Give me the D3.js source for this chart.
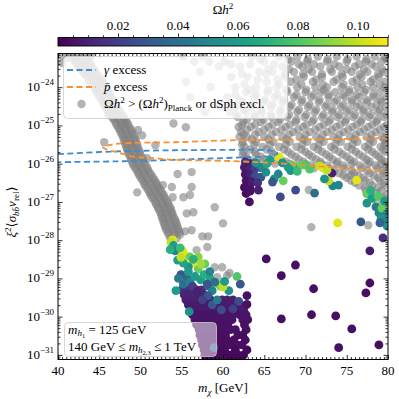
<!DOCTYPE html>
<html>
<head>
<meta charset="utf-8">
<script src="https://cdn.jsdelivr.net/npm/d3@7"></script>
<style>
  body { margin: 0; background: #fff; }
  text { font-family: "Liberation Serif", "DejaVu Serif", serif; fill: #000; }
</style>
</head>
<body>
<svg id="chart" width="399" height="399"></svg>
<script>
// values: masses in GeV, cross sections as log10
const massTicks = [40, 45, 50, 55, 60, 65, 70, 75, 80];
const sigmaDecades = [-31, -30, -29, -28, -27, -26, -25, -24];
const omegaTicks = [0.02, 0.04, 0.06, 0.08, 0.10];

// gray band (excluded points), rows of [log10 sigma, masses]
const grayBandRows = [
  [-23.18, [40.6, 41.5, 42.3, 43.1, 44.0]],
  [-23.30, [41.9, 42.7, 43.5]],
  [-23.43, [42.4, 43.2, 44.0]],
  [-23.56, [42.9, 43.6, 44.4]],
  [-23.69, [43.4, 44.1, 44.8]],
  [-23.82, [43.8, 44.6, 45.3]],
  [-23.95, [44.3, 45.0, 45.7]],
  [-24.08, [44.6, 45.3, 46.0]],
  [-24.21, [44.9, 45.6, 46.3]],
  [-24.34, [45.3, 46.0, 46.7]],
  [-24.47, [45.6, 46.3, 47.0]],
  [-24.60, [46.0, 46.7, 47.4]],
  [-24.73, [46.4, 47.1, 47.8]],
  [-24.86, [46.8, 47.5, 48.2]],
  [-24.99, [47.1, 47.8, 48.5]],
  [-25.12, [47.5, 48.2, 48.9]],
  [-25.25, [47.8, 48.5, 49.2]],
  [-25.38, [48.0, 48.7, 49.4]],
  [-25.51, [48.2, 48.9, 49.6]],
  [-25.64, [48.4, 49.1, 49.8]],
  [-25.77, [48.6, 49.3, 50.0]],
  [-25.90, [48.9, 49.6, 50.3]],
  [-26.03, [49.1, 49.9, 50.6]],
  [-26.16, [49.5, 50.2, 50.9]],
  [-26.29, [49.8, 50.5, 51.3]],
  [-26.42, [50.2, 50.9, 51.7]],
  [-26.55, [50.5, 51.3, 52.0]],
  [-26.68, [50.9, 51.7, 52.4]],
  [-26.81, [51.2, 52.0, 52.8]],
  [-26.94, [51.6, 52.4, 53.1]],
  [-27.07, [51.9, 52.7, 53.4]],
  [-27.20, [52.2, 53.0, 53.7]],
  [-27.33, [52.5, 53.2, 53.9]],
  [-27.46, [52.7, 53.4, 54.2]],
  [-27.59, [52.9, 53.7, 54.4]],
  [-27.72, [53.1, 53.9, 54.6]],
  [-27.85, [53.4, 54.2, 54.8]],
  [-27.95, [53.6, 54.4]]
];
const grayBandRowsB = [
  [-23.24, [41.2, 42.0, 42.9, 43.7]],
  [-23.37, [42.2, 43.0, 43.9]],
  [-23.50, [42.6, 43.4, 44.2]],
  [-23.63, [43.1, 43.9, 44.6]],
  [-23.76, [43.6, 44.4, 45.1]],
  [-23.89, [44.0, 44.8, 45.5]],
  [-24.02, [44.5, 45.2, 45.9]],
  [-24.15, [44.7, 45.5, 46.2]],
  [-24.28, [45.1, 45.8, 46.5]],
  [-24.41, [45.5, 46.2, 46.9]],
  [-24.54, [45.8, 46.5, 47.2]],
  [-24.67, [46.2, 46.9, 47.6]],
  [-24.80, [46.6, 47.3, 48.0]],
  [-24.93, [47.0, 47.7, 48.4]],
  [-25.06, [47.3, 48.0, 48.7]],
  [-25.19, [47.6, 48.3, 49.0]],
  [-25.32, [47.9, 48.6, 49.3]],
  [-25.45, [48.1, 48.8, 49.5]],
  [-25.58, [48.3, 49.0, 49.7]],
  [-25.71, [48.5, 49.2, 49.9]],
  [-25.84, [48.8, 49.5, 50.2]],
  [-25.97, [49.0, 49.7, 50.4]],
  [-26.10, [49.3, 50.0, 50.8]],
  [-26.23, [49.7, 50.4, 51.1]],
  [-26.36, [50.0, 50.7, 51.5]],
  [-26.49, [50.4, 51.1, 51.9]],
  [-26.62, [50.7, 51.5, 52.2]],
  [-26.75, [51.1, 51.9, 52.6]],
  [-26.88, [51.4, 52.2, 52.9]],
  [-27.01, [51.8, 52.6, 53.3]],
  [-27.14, [52.1, 52.9, 53.6]],
  [-27.27, [52.4, 53.1, 53.8]],
  [-27.40, [52.6, 53.3, 54.0]],
  [-27.53, [52.8, 53.5, 54.3]],
  [-27.66, [53.0, 53.8, 54.5]],
  [-27.79, [53.3, 54.0, 54.7]]
];

// gray cloud at large cross section, rows of [log10 sigma, masses]
const grayCloudRows = [
  [-23.20, [55.2, 57.5, 63.5, 66.8, 69.0, 71.5, 73.8, 76.2, 78.4, 79.6]],
  [-23.33, [56.5, 58.3, 60.2, 65.0, 68.3, 70.2, 72.6, 75.0, 77.3, 79.2]],
  [-23.46, [59.5, 62.1, 67.2, 69.6, 71.8, 74.1, 76.0, 78.5]],
  [-23.60, [57.2, 64.4, 66.0, 68.6, 70.8, 73.2, 75.6, 77.5, 79.5]],
  [-23.73, [61.0, 63.0, 67.5, 69.8, 72.0, 74.5, 76.8, 78.9]],
  [-23.86, [55.5, 65.3, 68.2, 70.9, 73.4, 75.7, 77.9, 79.7]],
  [-24.00, [58.5, 61.5, 64.0, 66.5, 69.0, 71.2, 72.6, 74.4, 76.3, 78.2, 79.6]],
  [-24.13, [62.8, 65.4, 67.8, 70.0, 71.9, 73.6, 75.3, 77.1, 79.0]],
  [-24.26, [56.0, 60.5, 63.8, 66.3, 68.6, 70.7, 72.8, 74.8, 76.5, 78.3, 79.8]],
  [-24.39, [62.4, 64.9, 67.2, 69.5, 71.6, 73.5, 75.6, 77.5, 79.2]],
  [-24.52, [59.6, 61.5, 63.5, 65.8, 68.1, 70.3, 72.4, 74.3, 76.2, 78.0, 79.7]],
  [-24.65, [57.8, 60.8, 62.8, 64.7, 66.9, 69.0, 71.1, 73.2, 75.0, 77.0, 78.8]],
  [-24.78, [61.8, 63.9, 65.9, 67.8, 69.9, 72.0, 73.9, 75.8, 77.7, 79.5]],
  [-24.91, [62.5, 64.6, 66.7, 68.8, 70.8, 72.8, 74.8, 76.7, 78.6]],
  [-25.04, [61.9, 63.4, 65.5, 67.6, 69.7, 71.7, 73.7, 75.7, 77.6, 79.5]],
  [-25.17, [62.2, 64.3, 66.4, 68.5, 70.5, 72.6, 74.6, 76.6, 78.5]],
  [-25.30, [62.0, 62.9, 65.0, 67.2, 69.3, 71.3, 73.4, 75.4, 77.4, 79.3]],
  [-25.43, [62.4, 64.0, 66.1, 68.1, 70.2, 72.2, 74.3, 76.3, 78.2, 79.8]],
  [-25.56, [62.6, 64.8, 66.8, 68.9, 71.0, 73.1, 75.1, 77.2, 79.1]],
  [-25.69, [62.5, 63.9, 65.9, 67.9, 70.0, 72.0, 74.1, 76.1, 78.1, 79.7]],
  [-25.82, [62.8, 64.6, 66.7, 68.8, 70.8, 72.9, 75.0, 77.0, 78.9]],
  [-25.95, [63.5, 65.5, 67.6, 69.7, 71.8, 73.9, 75.9, 77.8, 79.6]],
  [-26.05, [68.6, 70.7, 72.6, 74.6, 76.6, 78.5, 79.8]],
  [-26.18, [73.5, 75.6, 77.5, 79.3]],
  [-26.31, [74.6, 76.4, 78.3, 79.8]],
  [-26.44, [75.5, 77.2, 79.0]],
  [-26.57, [76.5, 78.1, 79.7]],
  [-26.70, [77.3, 79.2]],
  [-26.83, [78.0, 79.8]],
  [-26.96, [79.2]],
  [-27.10, [79.5]],
  [-27.30, [79.8]]
];
const grayCloudRowsB = [
  [-23.27, [64.5, 67.9, 70.3, 72.7, 75.1, 77.4, 79.8]],
  [-23.40, [61.0, 63.3, 66.2, 69.2, 71.0, 73.5, 76.5, 78.0]],
  [-23.53, [65.5, 68.0, 70.4, 73.0, 75.0, 77.1, 79.3]],
  [-23.66, [62.3, 65.2, 67.5, 69.7, 72.0, 74.4, 76.6, 78.8]],
  [-23.80, [64.2, 66.6, 68.9, 71.3, 73.8, 76.2, 78.2]],
  [-23.93, [62.6, 66.8, 69.5, 72.1, 74.6, 76.9, 79.0]],
  [-24.07, [63.2, 65.5, 67.7, 70.1, 72.2, 75.3, 77.3, 79.9]],
  [-24.20, [61.5, 64.0, 66.6, 68.9, 71.0, 72.8, 74.5, 76.2, 78.2]],
  [-24.33, [62.0, 65.1, 67.4, 69.6, 71.7, 73.8, 75.7, 77.4, 79.1]],
  [-24.46, [60.8, 63.6, 66.0, 68.3, 70.5, 72.6, 74.6, 76.6, 78.6]],
  [-24.59, [62.5, 64.6, 67.0, 69.2, 71.3, 73.3, 75.3, 77.1, 79.0]],
  [-24.72, [61.6, 63.8, 65.8, 68.0, 70.1, 72.2, 74.1, 76.0, 77.9, 79.8]],
  [-24.85, [62.9, 64.9, 66.9, 68.9, 71.0, 73.0, 74.9, 76.8, 78.7]],
  [-24.98, [62.3, 63.9, 66.0, 68.1, 70.1, 72.2, 74.2, 76.2, 78.1, 79.9]],
  [-25.11, [62.9, 65.0, 67.1, 69.1, 71.2, 73.2, 75.2, 77.1, 79.0]],
  [-25.24, [62.5, 63.9, 65.9, 68.0, 70.0, 72.1, 74.1, 76.1, 78.0, 79.8]],
  [-25.37, [63.5, 65.5, 67.7, 69.8, 71.8, 73.9, 75.9, 77.9, 79.5]],
  [-25.50, [62.3, 63.8, 65.7, 67.6, 69.6, 71.6, 73.6, 75.7, 77.7, 79.6]],
  [-25.63, [63.3, 65.3, 67.4, 69.5, 71.5, 73.5, 75.6, 77.6, 79.4]],
  [-25.76, [62.4, 64.0, 66.1, 68.3, 70.4, 72.5, 74.5, 76.5, 78.5]],
  [-25.89, [62.9, 64.9, 67.0, 69.2, 71.3, 73.3, 75.4, 77.4, 79.2]],
  [-26.00, [66.3, 68.1, 70.0, 71.9, 73.8, 75.6, 77.6, 79.2]],
  [-26.12, [71.0, 72.9, 74.7, 76.8, 78.7]],
  [-26.25, [74.1, 75.9, 77.8, 79.5]],
  [-26.37, [75.0, 77.0, 78.8]],
  [-26.50, [76.0, 77.8, 79.5]],
  [-26.63, [77.2, 78.8]],
  [-26.77, [78.6]],
  [-26.90, [79.5]],
  [-27.20, [79.3]]
];

// scattered gray points [mass, log10 sigma]
const grayScatter = [
  [40.5, -23.37], [45.6, -25.44], [46.1, -24.73], [48.1, -24.92], [49.7, -25.12],
  [50.2, -25.26], [51.8, -25.52], [50.8, -25.86], [49.6, -26.75], [52.7, -26.56],
  [53.8, -26.61], [54.5, -26.27], [56.2, -26.22], [56.2, -26.61], [53.9, -26.88],
  [55.2, -26.88], [56.0, -26.82], [55.6, -27.30], [56.4, -27.27], [59.0, -27.14],
  [60.0, -27.56], [56.2, -27.74], [55.4, -27.77], [57.5, -27.90], [58.2, -27.90],
  [58.1, -28.18], [56.8, -28.26], [59.0, -28.71], [59.9, -28.71], [60.5, -28.92],
  [60.8, -28.86], [59.3, -28.97], [55.0, -28.97], [70.7, -27.66], [77.6, -27.61],
  [70.4, -26.69], [75.5, -26.30], [54.0, -24.95], [55.5, -25.05]
];

// coloured points [mass, log10 sigma, omega h^2]
const colouredPoints = [
  [53.9, -27.99, 0.105], [53.7, -28.06, 0.10], [54.0, -28.14, 0.06], [54.2, -28.28, 0.05],
  [55.1, -28.28, 0.105], [55.4, -28.39, 0.105], [56.0, -28.44, 0.085], [56.2, -28.60, 0.105],
  [57.0, -28.44, 0.09], [57.8, -28.62, 0.085], [57.0, -28.75, 0.085], [55.8, -28.70, 0.055],
  [54.9, -28.90, 0.03], [55.6, -28.98, 0.035], [57.3, -29.04, 0.06], [59.7, -29.20, 0.085],
  [59.5, -29.15, 0.09], [58.2, -29.20, 0.035], [58.7, -29.32, 0.05], [60.7, -29.32, 0.055],
  [62.1, -29.15, 0.03], [61.7, -28.95, 0.08], [62.9, -29.45, 0.005], [62.9, -29.68, 0.005],
  [61.9, -29.60, 0.025], [61.2, -29.80, 0.02], [54.3, -29.32, 0.06], [55.9, -29.87, 0.055],
  [54.5, -28.52, 0.06], [54.8, -28.20, 0.075], [55.2, -28.60, 0.065], [56.4, -28.50, 0.07],
  [60.0, -29.22, 0.10], [54.6, -29.00, 0.045], [55.2, -29.15, 0.04], [56.0, -29.10, 0.05],
  [56.6, -28.95, 0.06], [57.7, -28.90, 0.07], [58.4, -29.00, 0.065], [59.0, -29.10, 0.04],
  [60.2, -29.08, 0.06], [56.3, -29.20, 0.02], [56.9, -29.33, 0.01], [58.1, -29.15, 0.03],
  [53.6, -28.25, 0.07], [54.9, -28.45, 0.10], [55.8, -28.82, 0.06], [57.3, -28.62, 0.095],
  [58.4, -28.82, 0.05],
  // bluish points inside the purple band
  [58.9, -30.81, 0.03], [58.7, -29.69, 0.03], [59.3, -29.56, 0.045], [58.2, -29.45, 0.03],
  [57.5, -29.56, 0.02], [59.8, -29.82, 0.025],
  // column just above the h resonance
  [62.7, -25.95, 0.015], [63.3, -26.00, 0.01], [63.9, -25.98, 0.02], [62.6, -26.10, 0.008],
  [63.2, -26.15, 0.012], [63.9, -26.12, 0.02], [64.5, -26.10, 0.03], [62.7, -26.28, 0.006],
  [63.3, -26.30, 0.01], [63.9, -26.32, 0.025], [64.6, -26.35, 0.03], [62.8, -26.45, 0.005],
  [63.5, -26.48, 0.008], [64.2, -26.50, 0.015], [62.6, -26.62, 0.004], [63.3, -26.65, 0.006],
  [64.3, -26.69, 0.01], [62.8, -26.78, 0.004], [63.3, -26.72, 0.005], [63.2, -27.00, 0.004],
  // edge of the gray cloud
  [64.0, -25.98, 0.055], [65.7, -25.91, 0.06], [66.8, -25.83, 0.105], [67.2, -25.98, 0.055],
  [68.5, -26.09, 0.06], [69.5, -26.04, 0.085], [70.5, -26.14, 0.08], [71.7, -26.06, 0.10],
  [72.1, -26.11, 0.105], [73.2, -26.25, 0.01], [65.2, -26.22, 0.055], [66.7, -26.27, 0.05],
  [66.2, -26.40, 0.055], [66.0, -26.48, 0.03], [67.3, -26.45, 0.085], [66.95, -26.87, 0.025],
  [68.8, -26.69, 0.025], [71.1, -26.77, 0.04], [73.3, -26.58, 0.05], [74.0, -26.56, 0.05],
  [72.8, -26.45, 0.10], [72.3, -26.40, 0.055], [76.2, -26.43, 0.105], [64.8, -26.10, 0.05],
  [65.3, -26.00, 0.065], [68.3, -26.04, 0.085], [68.2, -26.18, 0.055], [70.1, -26.04, 0.08],
  [69.0, -26.20, 0.075], [72.6, -26.17, 0.10], [67.9, -26.10, 0.06],
  // right-hand cluster
  [77.44, -26.79, 0.085], [78.29, -26.92, 0.09], [77.44, -27.03, 0.055], [78.05, -26.90, 0.06],
  [78.54, -27.13, 0.045], [78.90, -27.29, 0.05], [79.27, -27.16, 0.085], [79.15, -27.45, 0.055],
  [79.63, -27.52, 0.05], [79.88, -27.63, 0.055], [79.02, -27.55, 0.035], [79.39, -27.94, 0.015],
  [77.80, -28.28, 0.008], [76.71, -27.52, 0.03], [73.90, -27.55, 0.105], [78.8, -26.85, 0.08],
  [79.6, -26.98, 0.06], [79.9, -27.30, 0.05], [77.9, -26.70, 0.07],
  // sparse points at small cross section
  [65.24, -28.49, 0.004], [68.78, -28.65, 0.004], [67.07, -28.93, 0.004], [70.98, -29.27, 0.004],
  [77.80, -29.12, 0.004], [77.32, -29.38, 0.004], [67.07, -30.06, 0.004], [70.73, -29.95, 0.004],
  [73.66, -29.98, 0.004], [75.61, -30.32, 0.004], [74.02, -30.81, 0.004], [78.90, -30.74, 0.004]
];

// dense purple band, rows of [log10 sigma, omega h^2, masses]
const purpleRows = [
  [-29.30, 0.014, [55.0, 55.6, 56.2, 56.8, 57.4]],
  [-29.43, 0.012, [55.3, 55.9, 56.5, 57.1, 57.7]],
  [-29.56, 0.010, [55.5, 56.1, 56.7, 57.3, 57.9, 58.5, 59.9, 60.5, 61.2]],
  [-29.69, 0.008, [55.8, 56.4, 57.0, 57.6, 58.2, 59.5, 60.1, 60.7, 61.4, 62.1]],
  [-29.82, 0.008, [56.1, 56.7, 57.3, 57.9, 58.5, 59.1, 60.3, 61.6, 62.5]],
  [-29.95, 0.006, [56.3, 56.9, 57.5, 58.1, 58.7, 59.3, 59.9, 60.5, 61.2, 62.0, 62.8]],
  [-30.08, 0.006, [56.6, 57.2, 57.8, 58.4, 59.0, 59.6, 60.2, 61.1, 62.4, 63.0]],
  [-30.21, 0.005, [56.8, 57.4, 58.0, 58.6, 59.2, 59.8, 60.6, 62.6]],
  [-30.34, 0.005, [57.1, 57.7, 58.3, 58.9, 59.5, 60.1, 60.9, 61.5, 62.8]],
  [-30.48, 0.004, [57.2, 57.8, 58.4, 59.0, 59.6, 60.3, 61.8, 62.4]],
  [-30.61, 0.004, [57.4, 58.0, 58.6, 59.2, 59.8, 60.5, 61.3, 62.7]],
  [-30.74, 0.004, [57.5, 58.1, 58.7, 59.3, 59.9, 60.9, 61.7, 62.3]],
  [-30.87, 0.003, [57.7, 58.3, 58.9, 59.5, 60.2, 61.5, 62.9]],
  [-31.00, 0.003, [57.8, 58.4, 59.0, 59.6, 60.3, 60.9, 61.8, 62.5]],
  [-31.13, 0.003, [57.9, 58.5, 59.1, 59.7, 60.4, 61.2, 62.2]]
];

// excess contours [mass, log10 sigma]
const gammaContour = [
  [40, -25.75], [47, -25.68], [54, -25.65], [60, -25.64], [64.5, -25.64], [66.2, -25.68],
  [66.6, -25.74], [65.8, -25.80], [63, -25.83], [58, -25.87], [54, -25.90], [47, -25.94], [40, -25.96]
];
const pbarContour = [
  [80, -25.33], [72.97, -25.36], [60.85, -25.39], [54.18, -25.44], [48.73, -25.46], [46.55, -25.50],
  [45.45, -25.57], [45.8, -25.62], [47.27, -25.71], [49.33, -25.82], [51.76, -25.86], [54.18, -25.90],
  [60.85, -25.93], [66.55, -25.99], [72.97, -26.09], [80, -26.20]
];

const blue = "#3c8dd0", orange = "#f8912e";

const svg = d3.select("#chart");
const margin = { top: 53.5, right: 11, bottom: 39.5, left: 58 };
const W = 399, H = 399;
const x = d3.scaleLinear().domain([40, 80]).range([margin.left, W - margin.right]);
const y = d3.scaleLog().domain([Math.pow(10, -31.12), Math.pow(10, -23.12)]).range([H - margin.bottom, margin.top]);
const color = d3.scaleSequential(d3.interpolateViridis).domain([0, 0.11]);
const ys = L => y(Math.pow(10, L));

svg.append("defs").append("clipPath").attr("id", "clip")
  .append("rect").attr("x", x(40)).attr("y", margin.top)
  .attr("width", x(80) - x(40)).attr("height", H - margin.bottom - margin.top);

function rich(sel, parts) {
  let cur = 0;
  parts.forEach(p => {
    const sh = p.s || 0;
    const ts = sel.append("tspan").text(p.t);
    if (sh !== cur) ts.attr("dy", sh - cur);
    if (p.i) ts.style("font-style", "italic");
    if (p.f) ts.style("font-size", p.f + "px");
    cur = sh;
  });
}

const plot = svg.append("g").attr("clip-path", "url(#clip)");

// gray excluded points
let grayData = [];
[grayBandRows, grayBandRowsB, grayCloudRows, grayCloudRowsB].forEach(rows =>
  rows.forEach(r => r[1].forEach(m => grayData.push([m, r[0]]))));
grayScatter.forEach(p => grayData.push(p));
plot.append("g").selectAll("circle").data(grayData).join("circle")
  .attr("cx", d => x(d[0])).attr("cy", d => ys(d[1])).attr("r", 4.2)
  .attr("fill", "#808080").attr("fill-opacity", 0.6);

// viable points coloured by relic density
let colData = [];
purpleRows.forEach(r => r[2].forEach(m => colData.push([m, r[0], r[1]])));
colouredPoints.forEach(p => colData.push(p));
plot.append("g").selectAll("circle").data(colData).join("circle")
  .attr("cx", d => x(d[0])).attr("cy", d => ys(d[1])).attr("r", 4.4)
  .attr("fill", d => color(d[2]));

// excess contours
const line = d3.line().x(d => x(d[0])).y(d => ys(d[1])).curve(d3.curveCatmullRom);
plot.append("path").datum(gammaContour).attr("d", line)
  .attr("fill", "none").attr("stroke", blue).attr("stroke-width", 1.8).attr("stroke-dasharray", "6,3.5");
plot.append("path").datum(pbarContour).attr("d", line)
  .attr("fill", "none").attr("stroke", orange).attr("stroke-width", 1.8).attr("stroke-dasharray", "6,3.5");

// axes: ticks inward on all sides
const x0 = x(40), x1 = x(80), y0 = H - margin.bottom, y1 = margin.top;
const minorX = d3.range(40, 80.01, 0.5).filter(v => v % 5 !== 0);
let minorY = [];
for (let e = -32; e <= -24; e++) for (let k = 2; k <= 9; k++) {
  const v = k * Math.pow(10, e);
  if (v > y.domain()[0] && v < y.domain()[1]) minorY.push(v);
}
const majY = sigmaDecades.map(e => Math.pow(10, e));

function ticks(g, axisFn, scale, vals, size, tr) {
  const a = g.append("g").attr("transform", tr)
    .call(axisFn(scale).tickValues(vals).tickSize(size).tickFormat(""));
  a.select(".domain").remove();
  a.selectAll("line").attr("stroke", "#000").attr("stroke-width", 0.8);
  return a;
}
const axes = svg.append("g");
ticks(axes, d3.axisBottom, x, massTicks, -4.5, `translate(0,${y0})`);
ticks(axes, d3.axisBottom, x, minorX, -2.5, `translate(0,${y0})`);
ticks(axes, d3.axisTop, x, massTicks, -4.5, `translate(0,${y1})`);
ticks(axes, d3.axisTop, x, minorX, -2.5, `translate(0,${y1})`);
ticks(axes, d3.axisLeft, y, majY, -4.5, `translate(${x0},0)`);
ticks(axes, d3.axisLeft, y, minorY, -2.5, `translate(${x0},0)`);
ticks(axes, d3.axisRight, y, majY, -4.5, `translate(${x1},0)`);
ticks(axes, d3.axisRight, y, minorY, -2.5, `translate(${x1},0)`);

svg.append("rect").attr("x", x0).attr("y", y1).attr("width", x1 - x0).attr("height", y0 - y1)
  .attr("fill", "none").attr("stroke", "#000").attr("stroke-width", 1);

// tick labels
svg.append("g").selectAll("text").data(massTicks).join("text")
  .attr("x", d => x(d)).attr("y", y0 + 15).attr("text-anchor", "middle")
  .style("font-size", "13px").text(d => d);
sigmaDecades.forEach(e => {
  const t = svg.append("text").attr("x", x0 - 4).attr("y", y(Math.pow(10, e)) + 4)
    .attr("text-anchor", "end").style("font-size", "13px");
  rich(t, [{ t: "10" }, { t: "\u2212" + Math.abs(e), s: -6, f: 9 }]);
});

// axis titles
const xl = svg.append("text").attr("x", (x0 + x1) / 2).attr("y", 392).attr("text-anchor", "middle")
  .style("font-size", "13px");
rich(xl, [{ t: "m", i: 1 }, { t: "\u03c7", i: 1, s: 3, f: 9 }, { t: " [GeV]", s: 0 }]);

const yl = svg.append("text").attr("transform", "translate(16,212) rotate(-90)")
  .attr("text-anchor", "middle").style("font-size", "13px");
rich(yl, [
  { t: "\u03be", i: 1 }, { t: "2", s: -5, f: 9 }, { t: "\u27e8", s: 0 }, { t: "\u03c3", i: 1 },
  { t: "bb\u0304", i: 1, s: 3, f: 9 }, { t: "v", i: 1, s: 0 }, { t: "rel", s: 3, f: 9 }, { t: "\u27e9", s: 0 }
]);

// colour bar
const cb = { y: 37.5, h: 8.5 };
const cx = d3.scaleLinear().domain([0, 0.11]).range([x0, x1]);
const grad = svg.select("defs").append("linearGradient").attr("id", "vir");
d3.range(0, 1.0001, 0.05).forEach(t => grad.append("stop")
  .attr("offset", (t * 100) + "%").attr("stop-color", d3.interpolateViridis(t)));
svg.append("rect").attr("x", x0).attr("y", cb.y).attr("width", x1 - x0).attr("height", cb.h)
  .attr("fill", "url(#vir)").attr("stroke", "#000").attr("stroke-width", 0.9);
const cbMinor = d3.range(0.005, 0.1101, 0.005).filter(v => !omegaTicks.some(t => Math.abs(t - v) < 1e-6));
ticks(svg, d3.axisTop, cx, omegaTicks, 4, `translate(0,${cb.y})`);
ticks(svg, d3.axisTop, cx, cbMinor, 2.2, `translate(0,${cb.y})`);
svg.append("g").selectAll("text").data(omegaTicks).join("text")
  .attr("x", d => cx(d)).attr("y", 29.5).attr("text-anchor", "middle")
  .style("font-size", "13px").text(d => d.toFixed(2));
const ct = svg.append("text").attr("x", (x0 + x1) / 2).attr("y", 14).attr("text-anchor", "middle")
  .style("font-size", "13px");
rich(ct, [{ t: "\u03a9" }, { t: "h", i: 1 }, { t: "2", s: -5, f: 9 }]);

// legend
const lg = svg.append("g");
lg.append("rect").attr("x", 63.5).attr("y", 56.5).attr("width", 224).attr("height", 62).attr("rx", 4)
  .attr("fill", "#fff").attr("fill-opacity", 0.8).attr("stroke", "#cccccc").attr("stroke-width", 0.8);
lg.append("line").attr("x1", 67).attr("x2", 96).attr("y1", 70).attr("y2", 70)
  .attr("stroke", blue).attr("stroke-width", 1.8).attr("stroke-dasharray", "6,3.5");
lg.append("line").attr("x1", 67).attr("x2", 96).attr("y1", 87).attr("y2", 87)
  .attr("stroke", orange).attr("stroke-width", 1.8).attr("stroke-dasharray", "6,3.5");
lg.append("circle").attr("cx", 81.5).attr("cy", 104).attr("r", 4.2).attr("fill", "#808080").attr("fill-opacity", 0.6);
rich(lg.append("text").attr("x", 104).attr("y", 74).style("font-size", "13px"),
  [{ t: "\u03b3", i: 1 }, { t: " excess" }]);
rich(lg.append("text").attr("x", 104).attr("y", 91).style("font-size", "13px"),
  [{ t: "p\u0304", i: 1 }, { t: " excess" }]);
rich(lg.append("text").attr("x", 104).attr("y", 108).style("font-size", "13px"), [
  { t: "\u03a9" }, { t: "h", i: 1 }, { t: "2", s: -5, f: 9 }, { t: " > (\u03a9", s: 0 }, { t: "h", i: 1 },
  { t: "2", s: -5, f: 9 }, { t: ")", s: 0 }, { t: "Planck", s: 3, f: 9 }, { t: " or dSph excl.", s: 0 }
]);

// annotation box
const an = svg.append("g");
an.append("rect").attr("x", 64.5).attr("y", 322.5).attr("width", 152).attr("height", 34).attr("rx", 4)
  .attr("fill", "#fff").attr("fill-opacity", 0.5).attr("stroke", "#cccccc").attr("stroke-width", 0.8);
rich(an.append("text").attr("x", 68).attr("y", 334).style("font-size", "13px"), [
  { t: "m", i: 1 }, { t: "h", i: 1, s: 2, f: 9 }, { t: "1", s: 3.5, f: 6.5 }, { t: " = 125 GeV", s: 0 }
]);
rich(an.append("text").attr("x", 68).attr("y", 351).style("font-size", "13px"), [
  { t: "140 GeV \u2264 " }, { t: "m", i: 1 }, { t: "h", i: 1, s: 2, f: 9 }, { t: "2,3", s: 3.5, f: 6.5 },
  { t: " \u2264 1 TeV", s: 0 }
]);
</script>
</body>
</html>
